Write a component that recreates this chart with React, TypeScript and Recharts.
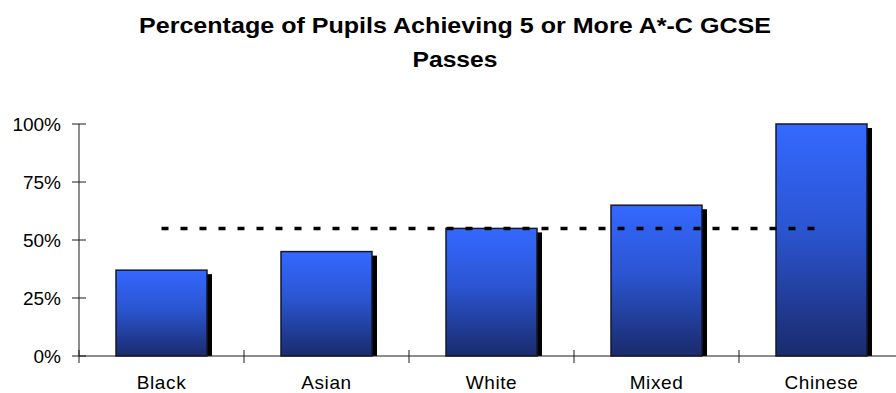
import React from 'react';
import { ComposedChart, Bar, Line, XAxis, YAxis } from 'recharts';

const categories = ['Black', 'Asian', 'White', 'Mixed', 'Chinese'];
const passRates = [37, 45, 55, 65, 100];
const averageRate = [55, 55, 55, 55, 55];
const yTicks = [0, 25, 50, 75, 100];
const titleLines = ['Percentage of Pupils Achieving 5 or More A*-C GCSE', 'Passes'];
const titleWidths = [632, 85];

const CHART_W = 905;
const CHART_H = 393;
const MARGIN = { top: 124, right: 1, left: 0, bottom: 7 };
const Y_AXIS_W = 79;
const X_AXIS_H = 30;
const BAND = (CHART_W - MARGIN.left - MARGIN.right - Y_AXIS_W) / categories.length;
const FONT = '"Liberation Sans", Arial, Helvetica, sans-serif';
const AXIS_COLOR = '#1a1a1a';

const chartData = categories.map((name, i) => ({
  name,
  rate: passRates[i],
  average: averageRate[i],
}));

// bar with a hard black drop shadow behind it
const ShadowBar = (props: any) => {
  const { x, y, width, height } = props;
  if (!height || height <= 0) return null;
  return (
    <g>
      <rect x={x + 5} y={y + 4} width={width} height={Math.max(height - 4, 0)} fill="#000" />
      <rect
        x={x}
        y={y}
        width={width}
        height={height}
        fill="url(#barGrad)"
        stroke="#15182e"
        strokeWidth={1.5}
      />
    </g>
  );
};

// y ticks cross the axis line
const YTick = (props: any) => {
  const { x, y, payload } = props;
  return (
    <g>
      <line x1={x - 7} x2={x + 7} y1={y} y2={y} stroke={AXIS_COLOR} strokeWidth={1} />
      <text x={x - 18} y={y} dy="0.36em" textAnchor="end" fontSize={19} fill="#000" fontFamily={FONT}>
        {payload.value}%
      </text>
    </g>
  );
};

// category ticks sit on the band edges, labels in the middle
const XTick = (props: any) => {
  const { x, y, payload, index } = props;
  const left = x - BAND / 2;
  return (
    <g>
      <line x1={left} x2={left} y1={y - 6} y2={y + 7} stroke={AXIS_COLOR} strokeWidth={1} />
      {index === categories.length - 1 && (
        <line x1={x + BAND / 2} x2={x + BAND / 2} y1={y - 6} y2={y + 7} stroke={AXIS_COLOR} strokeWidth={1} />
      )}
      <text x={x} y={y + 33} textAnchor="middle" fontSize={19} letterSpacing={0.6} fill="#000" fontFamily={FONT}>
        {payload.value}
      </text>
    </g>
  );
};

export default function App() {
  return (
    <div
      style={{
        position: 'absolute',
        left: 0,
        top: 0,
        width: 896,
        height: 393,
        overflow: 'hidden',
        background: '#fff',
      }}
    >
      <svg width={896} height={80} style={{ position: 'absolute', left: 0, top: 0 }}>
        {titleLines.map((line, i) => (
          <text
            key={line}
            x={455}
            y={33 + i * 34}
            textAnchor="middle"
            fontSize={22}
            fontWeight="bold"
            textLength={titleWidths[i]}
            lengthAdjust="spacingAndGlyphs"
            fill="#000"
            fontFamily={FONT}
          >
            {line}
          </text>
        ))}
      </svg>
      <div style={{ position: 'absolute', left: 0, top: 0 }}>
        <ComposedChart width={CHART_W} height={CHART_H} data={chartData} margin={MARGIN}>
          <defs>
            <linearGradient id="barGrad" x1="0" y1="0" x2="0" y2="1">
              <stop offset="0%" stopColor="#3468ff" />
              <stop offset="45%" stopColor="#2b55d2" />
              <stop offset="100%" stopColor="#1a2b6c" />
            </linearGradient>
          </defs>
          <XAxis
            dataKey="name"
            height={X_AXIS_H}
            axisLine={{ stroke: AXIS_COLOR, strokeWidth: 1 }}
            tickLine={false}
            tickSize={0}
            tickMargin={0}
            tick={<XTick />}
            interval={0}
          />
          <YAxis
            width={Y_AXIS_W}
            domain={[0, 100]}
            ticks={yTicks}
            axisLine={{ stroke: AXIS_COLOR, strokeWidth: 1 }}
            tickLine={false}
            tickSize={0}
            tickMargin={0}
            tick={<YTick />}
            interval={0}
          />
          <Bar dataKey="rate" barSize={91} shape={<ShadowBar />} isAnimationActive={false} />
          <Line
            dataKey="average"
            type="linear"
            stroke="#000"
            strokeWidth={3.5}
            strokeDasharray="7 12"
            dot={false}
            activeDot={false}
            isAnimationActive={false}
          />
        </ComposedChart>
      </div>
    </div>
  );
}
